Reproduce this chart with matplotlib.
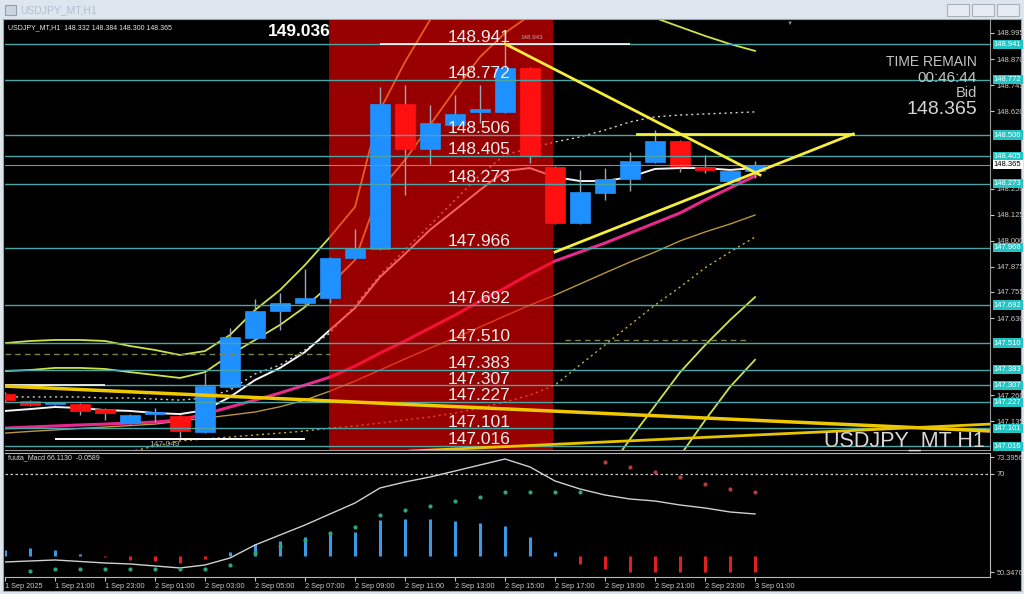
import matplotlib
matplotlib.use("Agg")
import matplotlib.pyplot as plt
from matplotlib.patches import Rectangle
import numpy as np

nan = np.nan

# ローソク足 USDJPY H1 (1 Sep 19:00 -> 3 Sep 01:00)
opens = [147.266, 147.232, 147.219, 147.218, 147.194, 147.127, 147.170, 147.161, 147.084, 147.300,
         147.534, 147.663, 147.702, 147.726, 147.917, 147.960, 148.655, 148.439, 148.554, 148.617,
         148.617, 148.827, 148.353, 148.085, 148.229, 148.296, 148.377, 148.478, 148.353, 148.285, 148.332]
highs = [147.275, 147.236, 147.230, 147.222, 147.197, 147.170, 147.199, 147.165, 147.367, 147.582,
         147.721, 147.750, 147.865, 147.922, 148.056, 148.736, 148.745, 148.650, 148.698, 148.746,
         148.943, 148.830, 148.360, 148.339, 148.349, 148.425, 148.530, 148.482, 148.411, 148.340, 148.384]
lows = [147.230, 147.208, 147.215, 147.166, 147.142, 147.122, 147.132, 147.049, 147.080, 147.296,
        147.530, 147.573, 147.690, 147.702, 147.912, 147.955, 148.219, 148.368, 148.550, 148.564,
        148.610, 148.372, 148.080, 148.080, 148.195, 148.238, 148.372, 148.330, 148.325, 148.280, 148.300]
closes = [147.237, 147.213, 147.226, 147.185, 147.175, 147.166, 147.178, 147.089, 147.304, 147.539,
          147.663, 147.702, 147.726, 147.917, 147.965, 148.655, 148.439, 148.564, 148.607, 148.631,
          148.827, 148.406, 148.085, 148.234, 148.296, 148.382, 148.478, 148.358, 148.339, 148.335, 148.365]

# インジケーター (画像から読んだ値)
ma_white = [147.185, 147.194, 147.204, 147.199, 147.189, 147.185, 147.175, 147.170, 147.189, 147.252,
            147.333, 147.391, 147.467, 147.573, 147.678, 147.826, 147.937, 148.052, 148.147, 148.243,
            148.334, 148.348, 148.305, 148.286, 148.286, 148.305, 148.344, 148.348, 148.348, 148.339, 148.348]
ma_dotted = [147.252, 147.252, 147.252, 147.252, 147.247, 147.247, 147.242, 147.237, 147.247, 147.285,
             147.362, 147.405, 147.477, 147.558, 147.692, 147.836, 147.956, 148.075, 148.195, 148.315,
             148.411, 148.444, 148.473, 148.497, 148.530, 148.569, 148.593, 148.602, 148.607, 148.612, 148.617]
ma_pink = [147.103, 147.108, 147.113, 147.118, 147.122, 147.127, 147.132, 147.142, 147.170, 147.204,
           147.237, 147.271, 147.309, 147.347, 147.400, 147.462, 147.520, 147.582, 147.644, 147.711,
           147.774, 147.841, 147.903, 147.946, 147.989, 148.037, 148.085, 148.133, 148.195, 148.253, 148.310]
ma_tan = [147.079, 147.087, 147.094, 147.101, 147.108, 147.115, 147.122, 147.137, 147.151, 147.165,
          147.180, 147.205, 147.237, 147.280, 147.328, 147.381, 147.434, 147.486, 147.534, 147.587,
          147.640, 147.692, 147.740, 147.793, 147.846, 147.898, 147.946, 147.999, 148.042, 148.080, 148.123]
ma_tan_dotted = [nan, nan, nan, nan, nan, 146.99, 147.017, 147.041, 147.051, 147.060,
                 147.070, 147.079, 147.089, 147.103, 147.113, 147.127, 147.142, 147.156, 147.175, 147.199,
                 147.228, 147.261, 147.309, 147.405, 147.501, 147.597, 147.692, 147.778, 147.870, 147.946, 148.018]
bb_up3 = [147.510, 147.520, 147.525, 147.525, 147.520, 147.496, 147.477, 147.453, 147.472, 147.549,
          147.668, 147.764, 147.884, 148.018, 148.162, 148.626, 148.856, 149.057, 149.250, 149.400,
          149.500, 149.550, 149.550, 149.550, 149.520, 149.500, 149.450, 149.420, 149.380, 149.330, 149.290]
bb_up2 = [147.376, 147.381, 147.391, 147.391, 147.386, 147.371, 147.357, 147.343, 147.371, 147.453,
          147.525, 147.597, 147.683, 147.788, 147.908, 148.243, 148.387, 148.554, 148.722, 148.880,
          148.995, 149.080, 149.150, 149.180, 149.170, 149.130, 149.067, 149.024, 148.981, 148.942, 148.909]
bb_lo2 = [nan] * 23 + [146.70, 146.88, 147.05, 147.21, 147.37, 147.50, 147.62, 147.73]
bb_lo3 = [nan] * 25 + [146.62, 146.80, 146.97, 147.14, 147.30, 147.43]

# 水平ライン
levels = [148.941, 148.772, 148.506, 148.405, 148.273, 147.966, 147.692,
          147.510, 147.383, 147.307, 147.227, 147.101, 147.016]
bid = 148.365
axis_ticks = [148.995, 148.870, 148.745, 148.620, 148.250, 148.125, 148.000,
              147.875, 147.755, 147.630, 147.260, 147.135]

# MACD パネル
macd_line = [52.36, 52.56, 52.76, 52.46, 52.16, 51.96, 51.56, 51.16, 51.76, 53.16,
             55.76, 57.77, 59.77, 61.98, 64.18, 67.19, 68.39, 69.39, 70.59, 71.80,
             73.00, 71.40, 68.59, 66.99, 65.78, 64.98, 64.58, 63.78, 63.18, 62.38, 61.98]
macd_hist = [1.2, 1.6, 1.2, 0.4, -0.2, -0.8, -1.0, -1.4, -0.6, 0.8,
             2.4, 3.0, 3.8, 4.8, 4.8, 7.2, 7.4, 7.4, 7.0, 6.6,
             6.0, 3.8, 0.8, -1.6, -2.6, -3.2, -3.2, -3.2, -3.2, -3.2, -3.2]
hist_base = 53.56
green_dots = [nan, 50.55, 50.95, 50.95, 50.95, 50.95, 50.95, 50.95, 50.95, 51.75,
              54.16, 55.56, 56.76, 58.17, 59.37, 61.77, 62.77, 63.58, 64.58, 65.38,
              66.38, 66.38, 66.38, 66.38] + [nan] * 7
red_dots = [nan] * 24 + [72.39, 71.39, 70.39, 69.39, 67.99, 66.98, 66.38]

hour_labels = ["1 Sep 2025", "1 Sep 21:00", "1 Sep 23:00", "2 Sep 01:00", "2 Sep 03:00",
               "2 Sep 05:00", "2 Sep 07:00", "2 Sep 09:00", "2 Sep 11:00", "2 Sep 13:00",
               "2 Sep 15:00", "2 Sep 17:00", "2 Sep 19:00", "2 Sep 21:00", "2 Sep 23:00", "3 Sep 01:00"]

plt.rcParams['font.family'] = ['Liberation Sans', 'DejaVu Sans']

W, H = 1024, 594


def box(x0, y0, x1, y1):
    # ピクセル座標(左上原点) -> figure 座標
    return [x0 / W, 1 - y1 / H, (x1 - x0) / W, (y1 - y0) / H]


fig = plt.figure(figsize=(W / 100, H / 100), dpi=100, facecolor="#dde5ee")


def fig_text(x, y, s, **kw):
    fig.text(x / W, 1 - y / H, s, **kw)


# ウィンドウ枠
bg = fig.add_axes(box(3, 19, 1021, 591))
bg.set_facecolor("black")
bg.set_xticks([])
bg.set_yticks([])
for s in bg.spines.values():
    s.set_color("#9aa4ae")

fig_text(20, 10, "USDJPY_MT,H1", color="#b0bfcf", fontsize=7.5, va="center")
fig.patches.append(Rectangle((5 / W, 1 - 15 / H), 11 / W, 10 / H, transform=fig.transFigure,
                             facecolor="#c8d4e0", edgecolor="#8fa0b4", lw=0.8))
for bx in (947, 972, 997):
    fig.patches.append(Rectangle((bx / W, 1 - 16 / H), 22 / W, 12 / H, transform=fig.transFigure,
                                 facecolor="#e6ecf2", edgecolor="#a8b0ba", lw=0.8))

# メインチャート
ax = fig.add_axes(box(5, 20, 990, 450))
ax.set_facecolor("none")
ax.set_xlim(0, 39.4)
ax.set_ylim(146.998, 149.057)
x = np.arange(len(opens))

band_col = "#cfe24a"
ax.plot(x, bb_up3, color=band_col, lw=1.3, zorder=2)
ax.plot(x, bb_up2, color=band_col, lw=1.3, zorder=2)
ax.plot(x, bb_lo2, color=band_col, lw=1.3, zorder=2)
ax.plot(x, bb_lo3, color=band_col, lw=1.3, zorder=2)
ax.plot(x, ma_tan, color="#b8963c", lw=1, zorder=2)
ax.plot(x, ma_tan_dotted, color="#c8b040", lw=1, ls=(0, (1.5, 2.5)), zorder=2)
ax.plot(x, ma_pink, color="#e8288c", lw=2.2, zorder=2)
ax.plot(x, ma_dotted, color="#cfcfcf", lw=1, ls=(0, (1.5, 2.5)), zorder=2)
ax.plot(x, ma_white, color="#f4f4f4", lw=1.4, zorder=2)

# 時間帯の赤い背景
ax.axvspan(12.96, 21.92, color="red", alpha=0.6, lw=0, zorder=3)

for i in x:
    o, h, l, c = opens[i], highs[i], lows[i], closes[i]
    col = "#1e90ff" if c >= o else "#ff1010"
    ax.vlines(i, l, h, color="#9aa6b4", lw=1, zorder=4)
    ax.add_patch(Rectangle((i - 0.39, min(o, c)), 0.78, max(abs(c - o), 0.005),
                           facecolor=col, edgecolor=col, lw=0.5, zorder=4))

ax.hlines(147.458, 0, 13, color="#7a8450", lw=1, ls=(0, (4, 3)), zorder=5)
ax.hlines(147.525, 22.4, 29.8, color="#7a8450", lw=1, ls=(0, (4, 3)), zorder=5)

for lv in levels:
    txt = f"{lv:.3f}"
    ax.axhline(lv, color="#4aa6a6", lw=1, zorder=5)
    ax.text(17.72, lv + 0.009, txt, color="#eeeeee", fontsize=12.5, va="baseline", zorder=7)
    ax.text(1.004, lv, txt, transform=ax.get_yaxis_transform(), fontsize=5.5, color="white",
            va="center", bbox=dict(boxstyle="square,pad=0.15", fc="#22c4c4", ec="none"),
            clip_on=False, zorder=8)
ax.axhline(bid, color="#8c8c8c", lw=0.8, zorder=5)
ax.text(1.004, bid, f"{bid:.3f}", transform=ax.get_yaxis_transform(), fontsize=5.5, color="black",
        va="center", bbox=dict(boxstyle="square,pad=0.15", fc="white", ec="none"),
        clip_on=False, zorder=8)

# 白い短いライン
ax.hlines(148.941, 15, 25, color="white", lw=1.2, zorder=6)
ax.hlines(147.049, 2, 12, color="white", lw=1.4, zorder=6)
ax.hlines(147.307, 0, 4, color="white", lw=1.2, zorder=6)

# トレンドライン
ax.plot([0, 39.4], [147.304, 147.089], color="#f0c800", lw=2.5, zorder=6)
ax.plot([16.2, 39.4], [146.993, 147.122], color="#e8c400", lw=2, zorder=6)
ax.plot([20, 30.2], [148.943, 148.315], color="#f5ee3c", lw=2, zorder=6)
ax.plot([22, 33.92], [147.946, 148.511], color="#f5ee3c", lw=2, zorder=6)
ax.plot([25.28, 33.92], [148.511, 148.511], color="#f5ee3c", lw=2, zorder=6)

ax.text(6.4, 147.022, "147.049", color="#b0b0b0", fontsize=6, ha="center", va="center", zorder=7)
ax.text(20.6, 148.975, "148.943", color="#b0b0b0", fontsize=4.5, va="center", zorder=7)
ax.text(39.2, 147.012, "USDJPY_MT H1", color="#d8d8d8", fontsize=15.5, ha="right",
        va="baseline", zorder=7)

ax.set_xticks([])
ax.yaxis.tick_right()
ax.set_yticks(axis_ticks)
ax.set_yticklabels([f"{t:.3f}" for t in axis_ticks])
ax.tick_params(axis="y", colors="#c8c8c8", labelsize=5.5, length=3, pad=2)
for side in ("left", "top"):
    ax.spines[side].set_visible(False)
ax.spines["right"].set_color("#9a9a9a")
ax.spines["bottom"].set_color("#9a9a9a")

# MACD
ax2 = fig.add_axes(box(5, 453, 990, 577))
ax2.set_facecolor("none")
ax2.set_xlim(0, 39.4)
ax2.set_ylim(49.35, 74.2)
ax2.axhline(70, color="#c8c8c8", lw=0.9, ls=(0, (2, 2)))
for i in x:
    hv = macd_hist[i]
    ax2.vlines(i, hist_base, hist_base + hv, color="#3a9ae8" if hv > 0 else "#e02020", lw=2.2)
ax2.plot(x, macd_line, color="#d0d0d0", lw=1)
ax2.scatter(x, green_dots, s=4, color="#2ea87a", zorder=3)
ax2.scatter(x, red_dots, s=4, color="#c03838", zorder=3)
ax2.yaxis.tick_right()
ax2.set_yticks([73.3956, 70, 50.3476])
ax2.set_yticklabels(["73.3956", "70", "50.3476"])
ax2.set_xticks(range(0, 31, 2))
ax2.set_xticklabels(hour_labels, ha="left")
ax2.tick_params(colors="#c8c8c8", labelsize=5.3, length=3, pad=1.5)
ax2.spines["left"].set_visible(False)
for side in ("right", "bottom", "top"):
    ax2.spines[side].set_color("#b8b8b8")

# テキスト
fig_text(8, 28, "USDJPY_MT,H1  148.332 148.384 148.300 148.365", color="#e6e6e6", fontsize=5, va="center")
fig_text(268, 31, "149.036", color="white", fontsize=12.5, weight="bold", va="center")
fig_text(8, 458, "fuuta_Macd 66.1130  -0.0589", color="#dddddd", fontsize=5, va="center")
fig_text(977, 62, "TIME REMAIN", color="#c4c4c4", fontsize=10, ha="right", va="center")
fig_text(977, 78, "00:46:44", color="#c4c4c4", fontsize=11, ha="right", va="center")
fig_text(977, 93, "Bid", color="#c4c4c4", fontsize=10.5, ha="right", va="center")
fig_text(977, 110, "148.365", color="#d4d4d4", fontsize=14, ha="right", va="center")
fig_text(790, 23, "▼", color="#8a8a8a", fontsize=4.5, ha="center", va="center")

fig.savefig("out.png", dpi=100, facecolor=fig.get_facecolor())
